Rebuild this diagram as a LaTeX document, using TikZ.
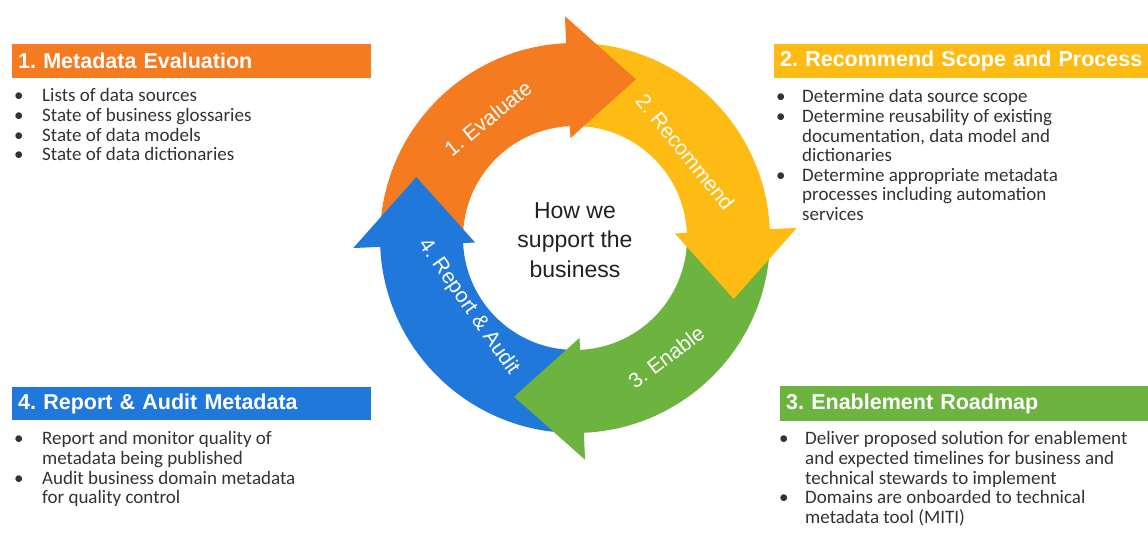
\documentclass[tikz,border=0pt]{standalone}
\usepackage{fontspec}
\setmainfont{Liberation Sans}
\newfontfamily\bodyfont{Carlito}
\usetikzlibrary{calc}
\frenchspacing

\definecolor{cOrange}{HTML}{F47B20}
\definecolor{cYellow}{HTML}{FDBB13}
\definecolor{cGreen}{HTML}{6CB33F}
\definecolor{cBlue}{HTML}{1F78DA}
\definecolor{bodytxt}{HTML}{333333}
\definecolor{centertxt}{HTML}{222222}

\begin{document}
\begin{tikzpicture}[x=1pt,y=1pt,
  hdr/.style={rectangle, anchor=north west, inner xsep=6pt, inner ysep=0pt,
    text=white, align=left, font=\fontsize{21.5}{24}\selectfont\bfseries},
  bullets/.style={anchor=base west, inner sep=0pt, text=bodytxt,
    font=\bodyfont\fontsize{19}{19.6}\selectfont},
  steplabel/.style={text=white, inner sep=0pt, font=\fontsize{21}{24}\selectfont},
]
\useasboundingbox (0,0) rectangle (1148,545);
\fill[white] (0,0) rectangle (1148,545);

% ---------- section headers ----------
\node[hdr, fill=cOrange, minimum height=34pt, text width=347pt] (h1) at (12,501) {\mbox{1. Metadata Evaluation}};
\node[hdr, fill=cYellow, minimum height=34pt, text width=362pt] (h2) at (774,501) {\mbox{2. Recommend Scope and Process}};
\node[hdr, fill=cGreen, minimum height=35pt, text width=356pt] (h3) at (780,159) {\mbox{3. Enablement Roadmap}};
\node[hdr, fill=cBlue, minimum height=33pt, text width=347pt] (h4) at (12,158) {\mbox{4. Report \& Audit Metadata}};

% ---------- bullet lists ----------
\node[bullets] (l1) at (14,443) {\begin{tabular}[t]{@{}p{28pt}@{}l@{}}
\textbullet & Lists of data sources\\
\textbullet & State of business glossaries\\
\textbullet & State of data models\\
\textbullet & State of data dictionaries
\end{tabular}};

\node[bullets] (l2) at (776,442) {\begin{tabular}[t]{@{}p{26pt}@{}l@{}}
\textbullet & Determine data source scope\\
\textbullet & Determine reusability of existing\\
 & documentation, data model and\\
 & dictionaries\\
\textbullet & Determine appropriate metadata\\
 & processes including automation\\
 & services
\end{tabular}};

\node[bullets] (l3) at (779,100) {\begin{tabular}[t]{@{}p{26pt}@{}l@{}}
\textbullet & Deliver proposed solution for enablement\\
 & and expected timelines for business and\\
 & technical stewards to implement\\
\textbullet & Domains are onboarded to technical\\
 & metadata tool (MITI)
\end{tabular}};

\node[bullets] (l4) at (14,100) {\begin{tabular}[t]{@{}p{28pt}@{}l@{}}
\textbullet & Report and monitor quality of\\
 & metadata being published\\
\textbullet & Audit business domain metadata\\
 & for quality control
\end{tabular}};

% ---------- cycle of four curved arrows ----------
\begin{scope}[shift={(575,307)}]
  % arrow bodies (each spans 90 degrees, ending where its head starts)
  \foreach \c/\a in {cOrange/92, cYellow/2, cGreen/-88, cBlue/-178} {
    \pgfmathsetmacro\s{\a+90}
    \fill[\c] (\s:195pt) arc[start angle=\s, end angle=\a, radius=195pt]
      -- (\a:112pt) arc[start angle=\a, end angle=\s, radius=112pt] -- cycle;
  }
  % arrow heads, drawn over the tail of the following arrow
  \foreach \c/\a in {cOrange/92, cYellow/2, cGreen/-88, cBlue/-178} {
    \pgfmathsetmacro\b{\a+0.6}
    \pgfmathsetmacro\t{\a-23}
    \fill[\c] (\b:100pt) -- (\b:222pt) -- (\t:170pt) -- cycle;
  }
  \node[steplabel, rotate=39] (s1) at (126:148pt) {1. Evaluate};
  \node[steplabel, rotate=-51] (s2) at (38:140pt) {2. Recommend};
  \node[steplabel, rotate=37] (s3) at (-52.5:150pt) {3. Enable};
  \node[steplabel, rotate=-55] (s4) at (213:127pt) {4. Report \& Audit};
  \node[text=centertxt, align=center, inner sep=0pt,
    font=\fontsize{23}{29.5}\selectfont] (ctr) at (0,-2) {How we\\support the\\business};
\end{scope}
\end{tikzpicture}
\end{document}
